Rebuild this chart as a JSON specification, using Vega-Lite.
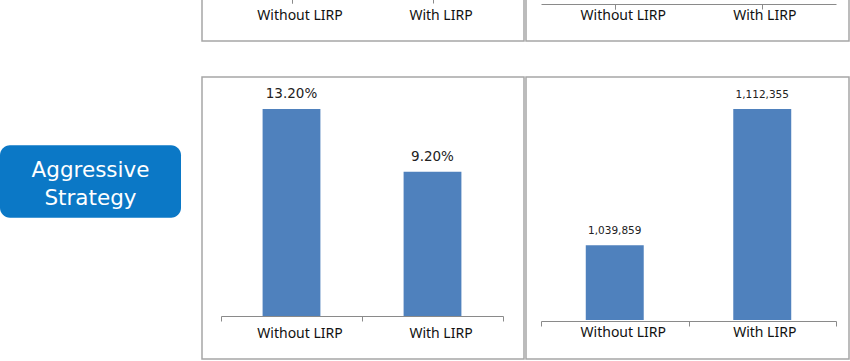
{
  "$schema": "https://vega.github.io/schema/vega-lite/v6.json",
  "background": "white",
  "padding": {"left": 0, "top": -60, "right": 0, "bottom": 0},
  "spacing": 20,
  "datasets": {
    "strategy": [{"label": "Aggressive\nStrategy"}],
    "cats": [{"case": "Without LIRP"}, {"case": "With LIRP"}],
    "aggRate": [
      {"case": "Without LIRP", "rate": 0.132},
      {"case": "With LIRP", "rate": 0.092}
    ],
    "aggValue": [
      {"case": "Without LIRP", "value": 1039859},
      {"case": "With LIRP", "value": 1112355}
    ]
  },
  "config": {
    "view": {"stroke": "#a6a6a6", "strokeWidth": 1.5},
    "axis": {
      "title": null,
      "labelAngle": 0,
      "tickBand": "extent",
      "tickSize": 5,
      "domainColor": "#8a8a8a",
      "tickColor": "#8a8a8a",
      "labelFont": "Noto Sans",
      "labelFontSize": 14,
      "labelColor": "#111111"
    }
  },
  "hconcat": [
    {
      "width": 181,
      "height": 418,
      "view": {"stroke": null},
      "data": {"name": "strategy"},
      "layer": [
        {
          "mark": {"type": "rect", "color": "#0b78c6", "cornerRadius": 10},
          "encoding": {
            "x": {"field": "label", "type": "nominal", "scale": {"paddingInner": 0, "paddingOuter": 0}, "axis": null},
            "y": {"field": "label", "type": "nominal", "scale": {"paddingInner": 0.58, "paddingOuter": 1, "align": 0.591}, "axis": null}
          }
        },
        {
          "mark": {"type": "text", "color": "white", "font": "DejaVu Sans", "fontSize": 21.5, "lineBreak": "\n", "lineHeight": 28, "baseline": "middle", "align": "center", "dy": -10},
          "encoding": {
            "x": {"field": "label", "type": "nominal", "axis": null},
            "y": {"field": "label", "type": "nominal", "axis": null},
            "text": {"field": "label"}
          }
        }
      ]
    },
    {
      "spacing": 34,
      "vconcat": [
        {
          "spacing": 0,
          "hconcat": [
            {
              "width": 322,
              "height": 100,
              "data": {"name": "cats"},
              "mark": {"type": "point", "opacity": 0},
              "encoding": {
                "x": {"field": "case", "type": "nominal", "sort": null,
                      "scale": {"range": [19, 301], "paddingInner": 0, "paddingOuter": 0},
                      "axis": {"offset": -43, "labelPadding": 5, "labelOffset": 8}}
              }
            },
            {
              "width": 323,
              "height": 100,
              "data": {"name": "cats"},
              "mark": {"type": "point", "opacity": 0},
              "encoding": {
                "x": {"field": "case", "type": "nominal", "sort": null,
                      "scale": {"range": [15, 310], "paddingInner": 0, "paddingOuter": 0},
                      "axis": {"offset": -37, "labelPadding": -1,
                               "labelOffset": {"condition": {"test": "datum.label === 'With LIRP'", "value": 2}, "value": 8}}}
              }
            }
          ]
        },
        {
          "spacing": 0,
          "hconcat": [
            {
              "width": 322,
              "height": 282,
              "data": {"name": "aggRate"},
              "encoding": {
                "x": {"field": "case", "type": "nominal", "sort": null,
                      "scale": {"range": [19, 301], "paddingInner": 0, "paddingOuter": 0},
                      "axis": {"offset": -43, "labelPadding": 5, "labelOffset": 8}},
                "y": {"field": "rate", "type": "quantitative",
                      "scale": {"domain": [-0.02742, 0.1524], "nice": false, "zero": false},
                      "axis": null}
              },
              "layer": [
                {
                  "mark": {"type": "bar", "color": "#4f81bd", "width": {"band": 0.41}},
                  "encoding": {"y2": {"datum": 0}}
                },
                {
                  "mark": {"type": "text", "font": "DejaVu Sans", "fontSize": 13.5, "color": "#222222", "baseline": "bottom", "dy": -8},
                  "encoding": {"text": {"field": "rate", "type": "quantitative", "format": ".2%"}}
                }
              ]
            },
            {
              "width": 323,
              "height": 282,
              "data": {"name": "aggValue"},
              "encoding": {
                "x": {"field": "case", "type": "nominal", "sort": null,
                      "scale": {"range": [15, 310], "paddingInner": 0, "paddingOuter": 0},
                      "axis": {"offset": -38, "labelPadding": -1,
                               "labelOffset": {"condition": {"test": "datum.label === 'With LIRP'", "value": 2}, "value": 8}}},
                "y": {"field": "value", "type": "quantitative",
                      "scale": {"domain": [979233, 1129398], "nice": false, "zero": false},
                      "axis": null}
              },
              "layer": [
                {
                  "mark": {"type": "bar", "color": "#4f81bd", "width": {"band": 0.393}},
                  "encoding": {"y2": {"datum": 1000000}}
                },
                {
                  "mark": {"type": "text", "font": "DejaVu Sans", "fontSize": 10.5, "color": "#222222", "baseline": "bottom", "dy": -9},
                  "encoding": {"text": {"field": "value", "type": "quantitative", "format": ",d"}}
                }
              ]
            }
          ]
        }
      ]
    }
  ]
}
